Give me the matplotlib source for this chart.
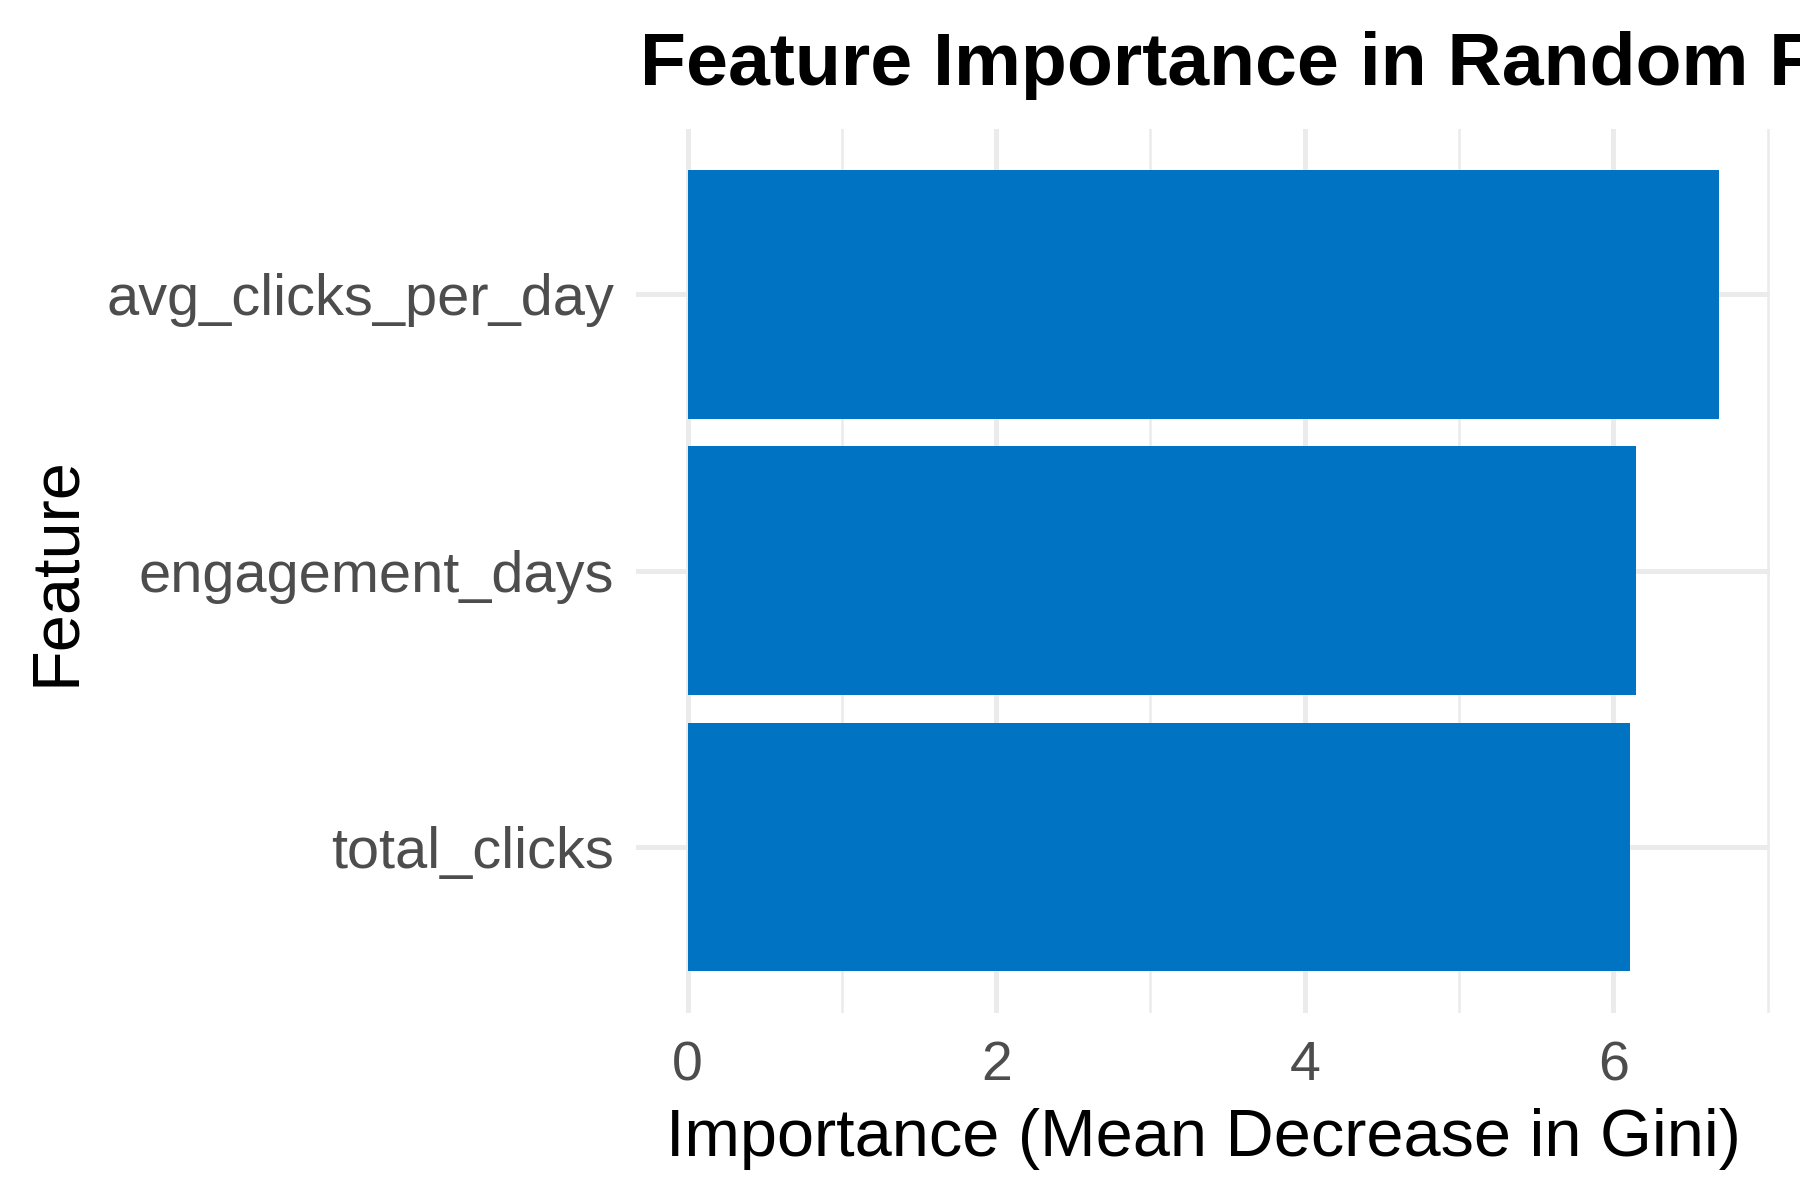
import matplotlib
matplotlib.use("Agg")
import matplotlib.pyplot as plt
from matplotlib.ticker import MultipleLocator

# feature importance values, bottom -> top
features = ["total_clicks", "engagement_days", "avg_clicks_per_day"]
importance = [6.107, 6.146, 6.684]
x_ticks = [0, 2, 4, 6]

bar_color = "#0073C2"
grid_color = "#EBEBEB"

plt.rcParams['font.family'] = ['Liberation Sans', 'DejaVu Sans']

fig = plt.figure(figsize=(18, 12), dpi=100)
ax = fig.add_axes([0.3533, 0.1562, 0.6303, 0.7366])

ypos = list(range(1, len(features) + 1))
ax.barh(ypos, importance, height=0.9, color=bar_color, zorder=3)

xmax = max(importance)
ax.set_xlim(-0.05 * xmax, 1.05 * xmax)
ax.set_ylim(0.4, len(features) + 0.6)

ax.set_xticks(x_ticks)
ax.set_xticklabels([str(t) for t in x_ticks])
ax.xaxis.set_minor_locator(MultipleLocator(1))
ax.set_yticks(ypos)
ax.set_yticklabels(features)

#* ggplot-ish minimal theme
for s in ax.spines.values():
    s.set_visible(False)
ax.grid(True, which='major', color=grid_color, linewidth=3.6, zorder=0)
ax.grid(True, which='minor', axis='x', color=grid_color, linewidth=1.8, zorder=0)
ax.set_axisbelow(True)
ax.tick_params(which='both', length=0)
ax.tick_params(axis='x', labelsize=40, labelcolor='#4D4D4D', pad=20)
ax.tick_params(axis='y', labelsize=41.6, labelcolor='#4D4D4D', pad=15.5)

ax.set_xlabel("Importance (Mean Decrease in Gini)", fontsize=48, color='black', labelpad=11)
fig.text(74 / 1800, 0.5 * (0.1562 + 0.8928), "Feature", rotation=90, fontsize=48,
         ha='center', va='baseline', rotation_mode='anchor')

#! title is wider than the figure in the original, so it gets cut at the right edge
fig.text(640 / 1800, 1 - 85 / 1200, "Feature Importance in Random Forest",
         fontsize=54.2, fontweight='bold', ha='left', va='baseline')

fig.savefig("out.png", dpi=100)
